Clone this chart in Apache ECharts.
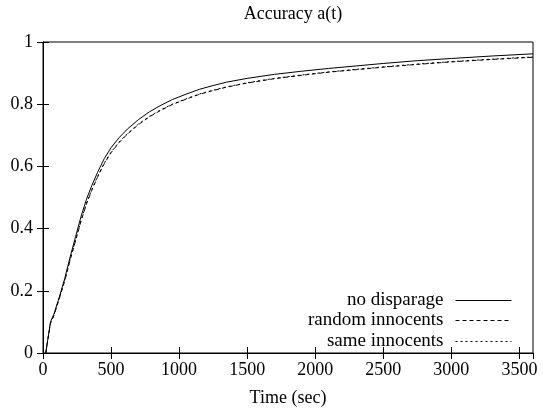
<!DOCTYPE html>
<html>
<head>
<meta charset="utf-8">
<script src="https://cdn.jsdelivr.net/npm/echarts@6/dist/echarts.min.js"></script>
<style>
html,body{margin:0;padding:0;background:#fff;}
#chart{width:543px;height:412px;}
</style>
</head>
<body>
<div id="chart"></div>
<script>
// Time (sec)
const timeNoDisparage = [20, 55, 80, 120, 160, 200, 240, 280, 320, 360, 400, 450, 500, 560, 620, 700, 780, 860, 950, 1050, 1150, 1250, 1350, 1500, 1700, 1900, 2100, 2300, 2500, 2750, 3000, 3300, 3600];
const accNoDisparage  = [0.0, 0.10, 0.125, 0.18, 0.24, 0.31, 0.375, 0.44, 0.495, 0.54, 0.58, 0.625, 0.66, 0.693, 0.72, 0.75, 0.775, 0.795, 0.815, 0.832, 0.848, 0.86, 0.871, 0.883, 0.896, 0.906, 0.915, 0.923, 0.931, 0.94, 0.947, 0.955, 0.962];

const timeRandom = [20, 55, 80, 120, 160, 200, 240, 280, 320, 360, 400, 450, 500, 560, 620, 700, 780, 860, 950, 1050, 1150, 1250, 1350, 1500, 1700, 1900, 2100, 2300, 2500, 2750, 3000, 3300, 3600];
const accRandom  = [0.0, 0.095, 0.12, 0.175, 0.232, 0.30, 0.362, 0.425, 0.48, 0.525, 0.565, 0.609, 0.644, 0.677, 0.704, 0.734, 0.759, 0.779, 0.799, 0.816, 0.832, 0.844, 0.855, 0.868, 0.882, 0.893, 0.903, 0.911, 0.919, 0.928, 0.936, 0.944, 0.951];

const timeSame = [20, 55, 80, 120, 160, 200, 240, 280, 320, 360, 400, 450, 500, 560, 620, 700, 780, 860, 950, 1050, 1150, 1250, 1350, 1500, 1700, 1900, 2100, 2300, 2500, 2750, 3000, 3300, 3600];
const accSame  = [0.0, 0.097, 0.122, 0.177, 0.235, 0.302, 0.365, 0.427, 0.482, 0.527, 0.567, 0.611, 0.646, 0.679, 0.705, 0.736, 0.760, 0.781, 0.800, 0.817, 0.833, 0.845, 0.856, 0.869, 0.883, 0.894, 0.904, 0.912, 0.92, 0.929, 0.937, 0.945, 0.952];

const seriesNames = ['no disparage', 'random innocents', 'same innocents'];
const xTicks = [0, 500, 1000, 1500, 2000, 2500, 3000, 3500];
const yTicks = [0, 0.2, 0.4, 0.6, 0.8, 1];

const FONT = '"Liberation Serif", "DejaVu Serif", serif';
const zip = (a, b) => a.map((v, i) => [v, b[i]]);

const chart = echarts.init(document.getElementById('chart'));
const dashes = ['solid', [4, 3], [2, 3]];
const datas = [zip(timeNoDisparage, accNoDisparage), zip(timeRandom, accRandom), zip(timeSame, accSame)];

const legendTop = [291, 311, 332];
chart.setOption({
  animation: false,
  backgroundColor: '#fff',
  title: {
    text: 'Accuracy a(t)', left: 288, top: 0, textAlign: 'center',
    textStyle: {fontFamily: FONT, fontSize: 18, fontWeight: 'normal', color: '#000'}
  },
  legend: seriesNames.map((n, i) => ({
    data: [n], orient: 'vertical', align: 'right', right: 31, top: legendTop[i],
    itemWidth: 56, itemHeight: 19, padding: 0,
    itemStyle: {opacity: 0},
    lineStyle: {width: 1, color: '#000', type: dashes[i]},
    textStyle: {fontFamily: FONT, fontSize: 19, color: '#000', padding: [0, 7, 0, 0]},
    selectedMode: false
  })),
  grid: {left: 43, top: 42, width: 490, height: 312, show: true, borderColor: '#000', borderWidth: 1, backgroundColor: 'transparent'},
  xAxis: [{
    type: 'value', min: 0, max: 3600, interval: 500,
    name: 'Time (sec)', nameLocation: 'middle', nameGap: 36,
    nameTextStyle: {fontFamily: FONT, fontSize: 18, color: '#000'},
    axisLine: {show: true, lineStyle: {color: '#000', width: 1}},
    axisTick: {show: true, inside: true, length: 6, lineStyle: {color: '#000'}},
    axisLabel: {fontFamily: FONT, fontSize: 18, color: '#000', margin: 8, showMaxLabel: false,
      formatter: v => xTicks.includes(v) ? String(v) : ''},
    splitLine: {show: false}
  }, {
    type: 'value', position: 'top', min: 0, max: 3600, interval: 500,
    axisLine: {show: true, lineStyle: {color: '#000', width: 1}},
    axisTick: {show: true, inside: true, length: 6, lineStyle: {color: '#000'}},
    axisLabel: {show: false}, splitLine: {show: false}
  }],
  yAxis: [{
    type: 'value', min: 0, max: 1, interval: 0.2,
    axisLine: {show: true, lineStyle: {color: '#000', width: 1}},
    axisTick: {show: true, inside: true, length: 6, lineStyle: {color: '#000'}},
    axisLabel: {fontFamily: FONT, fontSize: 18, color: '#000', margin: 10,
      formatter: v => yTicks.some(t => Math.abs(t - v) < 1e-9) ? String(+v.toFixed(1)) : ''},
    splitLine: {show: false}
  }, {
    type: 'value', position: 'right', min: 0, max: 1, interval: 0.2,
    axisLine: {show: true, lineStyle: {color: '#000', width: 1}},
    axisTick: {show: true, inside: true, length: 6, lineStyle: {color: '#000'}},
    axisLabel: {show: false}, splitLine: {show: false}
  }],
  series: seriesNames.map((n, i) => ({
    name: n, type: 'line', data: datas[i], showSymbol: false, symbol: 'none',
    lineStyle: {color: '#000', width: 1, type: dashes[i]},
    itemStyle: {color: '#000'},
    smooth: false, z: 3 - i
  }))
});
</script>
</body>
</html>
